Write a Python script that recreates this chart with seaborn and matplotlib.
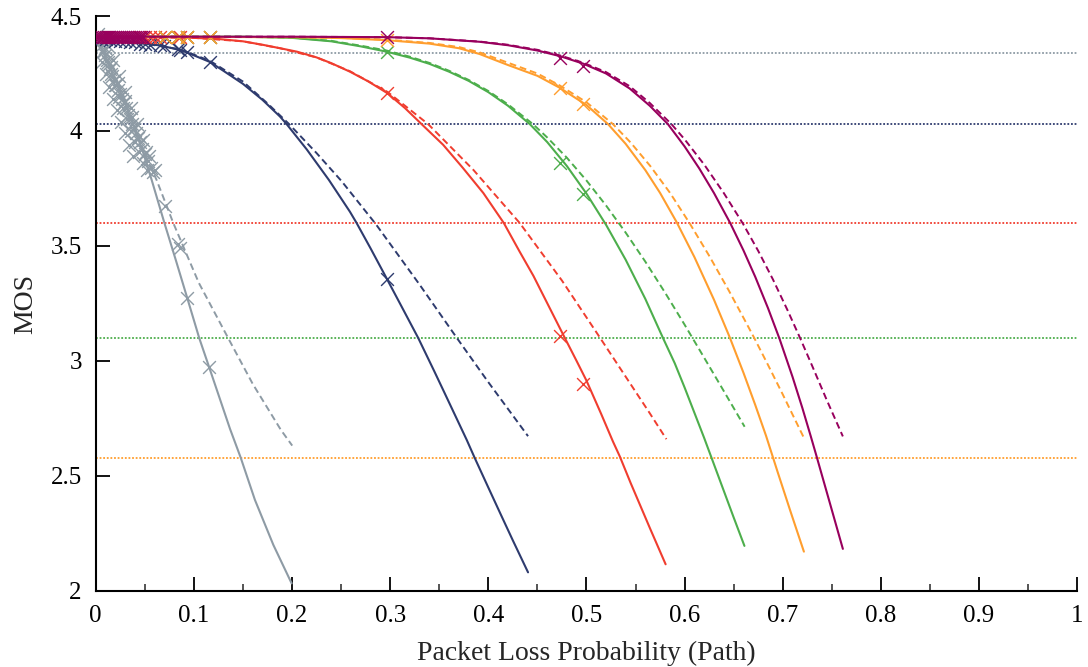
import matplotlib
matplotlib.use("Agg")
import matplotlib.pyplot as plt
import seaborn as sns
import pandas as pd
from matplotlib.ticker import MultipleLocator, FormatStrFormatter

# ---------------- data ----------------
series_names = ["gray", "navy", "red", "green", "orange", "purple"]
series_colors = ["#8E9BA5", "#2E3B6E", "#F03D2F", "#4DAE4C", "#FF9E2E", "#98005D"]

# solid curves
gray_fit_x = [0, 0.01, 0.02, 0.03, 0.038, 0.048, 0.057, 0.0699, 0.0815, 0.0933, 0.1055, 0.1154, 0.1265, 0.1368, 0.1476, 0.1622, 0.181, 0.1996]
gray_fit_y = [4.41, 4.32, 4.22, 4.12, 4.03, 3.91, 3.787, 3.601, 3.44, 3.273, 3.099, 2.975, 2.835, 2.705, 2.581, 2.396, 2.20, 2.033]
navy_fit_x = [0, 0.025, 0.05, 0.0655, 0.086, 0.0926, 0.1164, 0.13, 0.15, 0.17, 0.1877, 0.1945, 0.215, 0.2376, 0.259, 0.2658, 0.28, 0.2963, 0.31, 0.3286, 0.345, 0.355, 0.378, 0.386, 0.40, 0.413, 0.425, 0.4405]
navy_fit_y = [4.41, 4.39, 4.38, 4.372, 4.352, 4.342, 4.30, 4.262, 4.205, 4.135, 4.063, 4.03, 3.92, 3.787, 3.649, 3.60, 3.49, 3.36, 3.25, 3.10, 2.955, 2.865, 2.657, 2.58, 2.45, 2.33, 2.22, 2.081]
red_fit_x = [0, 0.05, 0.1, 0.125, 0.15, 0.17, 0.1877, 0.205, 0.225, 0.24, 0.259, 0.278, 0.2973, 0.315, 0.332, 0.354, 0.374, 0.395, 0.4158, 0.432, 0.446, 0.462, 0.478, 0.49, 0.5, 0.515, 0.527, 0.534, 0.545, 0.557, 0.565, 0.5807]
red_fit_y = [4.41, 4.41, 4.405, 4.40, 4.39, 4.375, 4.36, 4.345, 4.32, 4.295, 4.258, 4.215, 4.164, 4.10, 4.03, 3.94, 3.84, 3.73, 3.60, 3.475, 3.37, 3.235, 3.10, 3.00, 2.915, 2.77, 2.65, 2.585, 2.47, 2.35, 2.27, 2.116]
green_fit_x = [0, 0.1, 0.15, 0.2, 0.24, 0.27, 0.2963, 0.32, 0.34, 0.36, 0.38, 0.40, 0.42, 0.4423, 0.46, 0.48, 0.50, 0.52, 0.54, 0.56, 0.578, 0.59, 0.60, 0.61, 0.62, 0.63, 0.64, 0.65, 0.661]
green_fit_y = [4.41, 4.41, 4.41, 4.405, 4.39, 4.368, 4.345, 4.319, 4.292, 4.258, 4.218, 4.169, 4.11, 4.03, 3.952, 3.848, 3.728, 3.592, 3.44, 3.27, 3.10, 2.99, 2.885, 2.775, 2.665, 2.55, 2.435, 2.32, 2.196]
orange_fit_x = [0, 0.2, 0.25, 0.2963, 0.34, 0.37, 0.391, 0.42, 0.45, 0.4728, 0.50, 0.522, 0.54, 0.56, 0.575, 0.592, 0.61, 0.63, 0.646, 0.66, 0.672, 0.683, 0.695, 0.708, 0.7216]
orange_fit_y = [4.41, 4.408, 4.404, 4.395, 4.38, 4.36, 4.335, 4.287, 4.24, 4.188, 4.113, 4.03, 3.944, 3.83, 3.731, 3.603, 3.452, 3.266, 3.103, 2.949, 2.809, 2.675, 2.515, 2.345, 2.171]
purple_fit_x = [0, 0.2, 0.2963, 0.34, 0.391, 0.42, 0.45, 0.4735, 0.4966, 0.52, 0.544, 0.5645, 0.583, 0.60, 0.615, 0.63, 0.6466, 0.66, 0.672, 0.685, 0.6968, 0.71, 0.72, 0.7285, 0.734, 0.748, 0.7613]
purple_fit_y = [4.41, 4.41, 4.408, 4.403, 4.388, 4.373, 4.35, 4.325, 4.293, 4.25, 4.185, 4.11, 4.03, 3.933, 3.837, 3.73, 3.599, 3.481, 3.366, 3.23, 3.096, 2.931, 2.796, 2.674, 2.593, 2.383, 2.183]

# dashed curves
gray_alt_x = [0, 0.02, 0.038, 0.05, 0.062, 0.079, 0.105, 0.135, 0.16, 0.1887, 0.2002]
gray_alt_y = [4.41, 4.23, 4.04, 3.90, 3.787, 3.60, 3.34, 3.099, 2.90, 2.70, 2.632]
navy_alt_x = [0, 0.025, 0.05, 0.086, 0.1164, 0.15, 0.175, 0.197, 0.225, 0.2505, 0.2854, 0.33, 0.367, 0.40, 0.4405]
navy_alt_y = [4.41, 4.39, 4.38, 4.355, 4.305, 4.215, 4.12, 4.03, 3.904, 3.782, 3.595, 3.332, 3.106, 2.908, 2.673]
red_alt_x = [0, 0.1, 0.15, 0.1877, 0.225, 0.259, 0.2973, 0.3387, 0.385, 0.432, 0.475, 0.514, 0.5645, 0.5815]
red_alt_y = [4.41, 4.405, 4.39, 4.36, 4.32, 4.26, 4.17, 4.03, 3.83, 3.60, 3.35, 3.10, 2.773, 2.66]
green_alt_x = [0, 0.1, 0.15, 0.2, 0.24, 0.27, 0.2963, 0.32, 0.34, 0.36, 0.38, 0.40, 0.42, 0.4455, 0.46, 0.48, 0.50, 0.52, 0.54, 0.56, 0.58, 0.60, 0.62, 0.64, 0.6612]
green_alt_y = [4.41, 4.41, 4.41, 4.406, 4.392, 4.371, 4.35, 4.323, 4.296, 4.262, 4.222, 4.174, 4.116, 4.03, 3.972, 3.884, 3.785, 3.676, 3.558, 3.432, 3.298, 3.158, 3.014, 2.869, 2.714]
orange_alt_x = [0, 0.2, 0.25, 0.2963, 0.34, 0.37, 0.391, 0.42, 0.45, 0.4728, 0.50, 0.527, 0.545, 0.565, 0.585, 0.605, 0.625, 0.645, 0.66, 0.671, 0.685, 0.70, 0.721]
orange_alt_y = [4.41, 4.408, 4.405, 4.397, 4.383, 4.365, 4.342, 4.297, 4.25, 4.198, 4.125, 4.03, 3.95, 3.848, 3.732, 3.60, 3.458, 3.307, 3.188, 3.10, 2.983, 2.855, 2.671]
purple_alt_x = [0, 0.2, 0.2963, 0.34, 0.391, 0.42, 0.45, 0.4735, 0.4966, 0.52, 0.544, 0.5645, 0.5866, 0.60, 0.62, 0.64, 0.6595, 0.675, 0.69, 0.705, 0.7182, 0.73, 0.745, 0.7613]
purple_alt_y = [4.41, 4.41, 4.408, 4.403, 4.389, 4.375, 4.353, 4.328, 4.297, 4.256, 4.195, 4.122, 4.03, 3.964, 3.854, 3.73, 3.597, 3.479, 3.355, 3.22, 3.095, 2.979, 2.829, 2.672]

# measured points (x markers)
gray_pts_x = [0.000, 0.003, 0.005, 0.007, 0.009, 0.011, 0.013, 0.015, 0.017, 0.019, 0.021, 0.023, 0.025, 0.027, 0.029, 0.031, 0.033, 0.035, 0.037, 0.039, 0.041, 0.043, 0.045, 0.047, 0.050, 0.053, 0.056, 0.058,
              0.006, 0.010, 0.014, 0.018, 0.022, 0.026, 0.030, 0.034, 0.038,
              0.012, 0.018, 0.024, 0.030, 0.036, 0.042, 0.048, 0.054, 0.060,
              0.004, 0.008, 0.012, 0.016, 0.020, 0.024, 0.028, 0.032, 0.036, 0.040, 0.044, 0.048, 0.052,
              0.002, 0.009, 0.016, 0.023, 0.030, 0.037, 0.044, 0.051,
              0.0706, 0.084, 0.086, 0.0933, 0.1154]
gray_pts_y = [4.41, 4.39, 4.37, 4.35, 4.33, 4.31, 4.29, 4.27, 4.24, 4.22, 4.20, 4.18, 4.16, 4.14, 4.12, 4.10, 4.07, 4.05, 4.03, 4.01, 3.99, 3.97, 3.95, 3.92, 3.90, 3.87, 3.84, 3.82,
              4.30, 4.25, 4.19, 4.14, 4.09, 4.04, 3.99, 3.94, 3.89,
              4.37, 4.31, 4.24, 4.17, 4.10, 4.03, 3.96, 3.89, 3.83,
              4.40, 4.35, 4.30, 4.25, 4.20, 4.15, 4.10, 4.05, 4.00, 3.95, 3.91, 3.86, 3.83,
              4.42, 4.36, 4.28, 4.21, 4.13, 4.06, 3.98, 3.91,
              3.674, 3.51, 3.49, 3.273, 2.975]
navy_pts_x = [0.005, 0.01, 0.015, 0.02, 0.025, 0.03, 0.035, 0.04, 0.045, 0.05, 0.055, 0.0655, 0.07, 0.084, 0.086, 0.0926, 0.1164, 0.2963]
navy_pts_y = [4.40, 4.40, 4.395, 4.39, 4.39, 4.39, 4.385, 4.385, 4.38, 4.38, 4.376, 4.372, 4.368, 4.355, 4.352, 4.342, 4.30, 3.355]
red_pts_x = [0.045, 0.05, 0.055, 0.06, 0.0655, 0.0706, 0.084, 0.086, 0.0933, 0.1164, 0.2963, 0.4728, 0.4966]
red_pts_y = [4.41, 4.41, 4.41, 4.41, 4.41, 4.41, 4.41, 4.41, 4.41, 4.41, 4.164, 3.109, 2.90]
green_pts_x = [0.0706, 0.084, 0.0933, 0.1164, 0.2963, 0.4735, 0.4966]
green_pts_y = [4.41, 4.41, 4.41, 4.41, 4.345, 3.862, 3.726]
orange_pts_x = [0.0706, 0.084, 0.0933, 0.1164, 0.2963, 0.4728, 0.4966]
orange_pts_y = [4.41, 4.41, 4.41, 4.41, 4.397, 4.186, 4.116]
purple_pts_x = [0.000, 0.002, 0.004, 0.006, 0.008, 0.010, 0.012, 0.014, 0.016, 0.018, 0.020, 0.022, 0.024, 0.026, 0.028, 0.030, 0.032, 0.034, 0.036, 0.038, 0.040, 0.042, 0.044, 0.046, 0.048, 0.2963, 0.4735, 0.4966]
purple_pts_y = [4.41] * 25 + [4.408, 4.316, 4.283]

# horizontal threshold lines
threshold_values = [4.34, 4.03, 3.60, 3.10, 2.58]
threshold_colors = ["#8E9BA5", "#2E3B6E", "#F03D2F", "#4DAE4C", "#FF9E2E"]

x_ticks = [0, 0.1, 0.2, 0.3, 0.4, 0.5, 0.6, 0.7, 0.8, 0.9, 1]
y_ticks = [2, 2.5, 3, 3.5, 4, 4.5]
x_label = "Packet Loss Probability (Path)"
y_label = "MOS"

# ---------------- plotting ----------------
sns.set_theme(style="ticks")
plt.rcParams['font.family'] = ['Liberation Serif', 'DejaVu Serif']

fig = plt.figure(figsize=(10.88, 6.67), dpi=100)
ax = fig.add_axes([0.088, 0.114, 0.902, 0.862])

for val, col in zip(threshold_values, threshold_colors):
    ax.axhline(val, color=col, linewidth=1.3, linestyle=(0, (1, 1)), zorder=1)

fits = {
    "gray": (gray_fit_x, gray_fit_y, gray_alt_x, gray_alt_y, gray_pts_x, gray_pts_y),
    "navy": (navy_fit_x, navy_fit_y, navy_alt_x, navy_alt_y, navy_pts_x, navy_pts_y),
    "red": (red_fit_x, red_fit_y, red_alt_x, red_alt_y, red_pts_x, red_pts_y),
    "green": (green_fit_x, green_fit_y, green_alt_x, green_alt_y, green_pts_x, green_pts_y),
    "orange": (orange_fit_x, orange_fit_y, orange_alt_x, orange_alt_y, orange_pts_x, orange_pts_y),
    "purple": (purple_fit_x, purple_fit_y, purple_alt_x, purple_alt_y, purple_pts_x, purple_pts_y),
}

z = 2
for name, col in zip(series_names, series_colors):
    fx, fy, ax_, ay_, px, py = fits[name]
    sns.lineplot(x=fx, y=fy, color=col, linewidth=1.5, sort=False, estimator=None, ax=ax, zorder=z)
    sns.lineplot(x=ax_, y=ay_, color=col, linewidth=1.4, linestyle=(0, (3.5, 2.0)),
                 sort=False, estimator=None, ax=ax, zorder=z)
    sns.scatterplot(x=px, y=py, color=col, marker="x", s=85, linewidth=1.0, ax=ax, zorder=z + 0.5)
    z += 1

ax.set_xlim(0, 1)
ax.set_ylim(2, 4.5)
ax.set_xticks(x_ticks)
ax.set_yticks(y_ticks)
ax.xaxis.set_minor_locator(MultipleLocator(0.05))
ax.xaxis.set_major_formatter(FormatStrFormatter('%g'))
ax.yaxis.set_major_formatter(FormatStrFormatter('%g'))
ax.tick_params(axis='both', which='major', direction='in', length=10, width=1.3,
               labelsize=18, colors='black')
ax.tick_params(axis='x', which='major', pad=10)
ax.tick_params(axis='y', which='major', pad=10)
ax.tick_params(axis='x', which='minor', direction='in', length=5, width=1.1)
sns.despine(ax=ax)
for s in ['left', 'bottom']:
    ax.spines[s].set_linewidth(1.5)
    ax.spines[s].set_color('black')

ax.set_xlabel(x_label, fontsize=20, labelpad=10)
ax.set_ylabel(y_label, fontsize=20, labelpad=9)

fig.savefig("out.png", dpi=100)
